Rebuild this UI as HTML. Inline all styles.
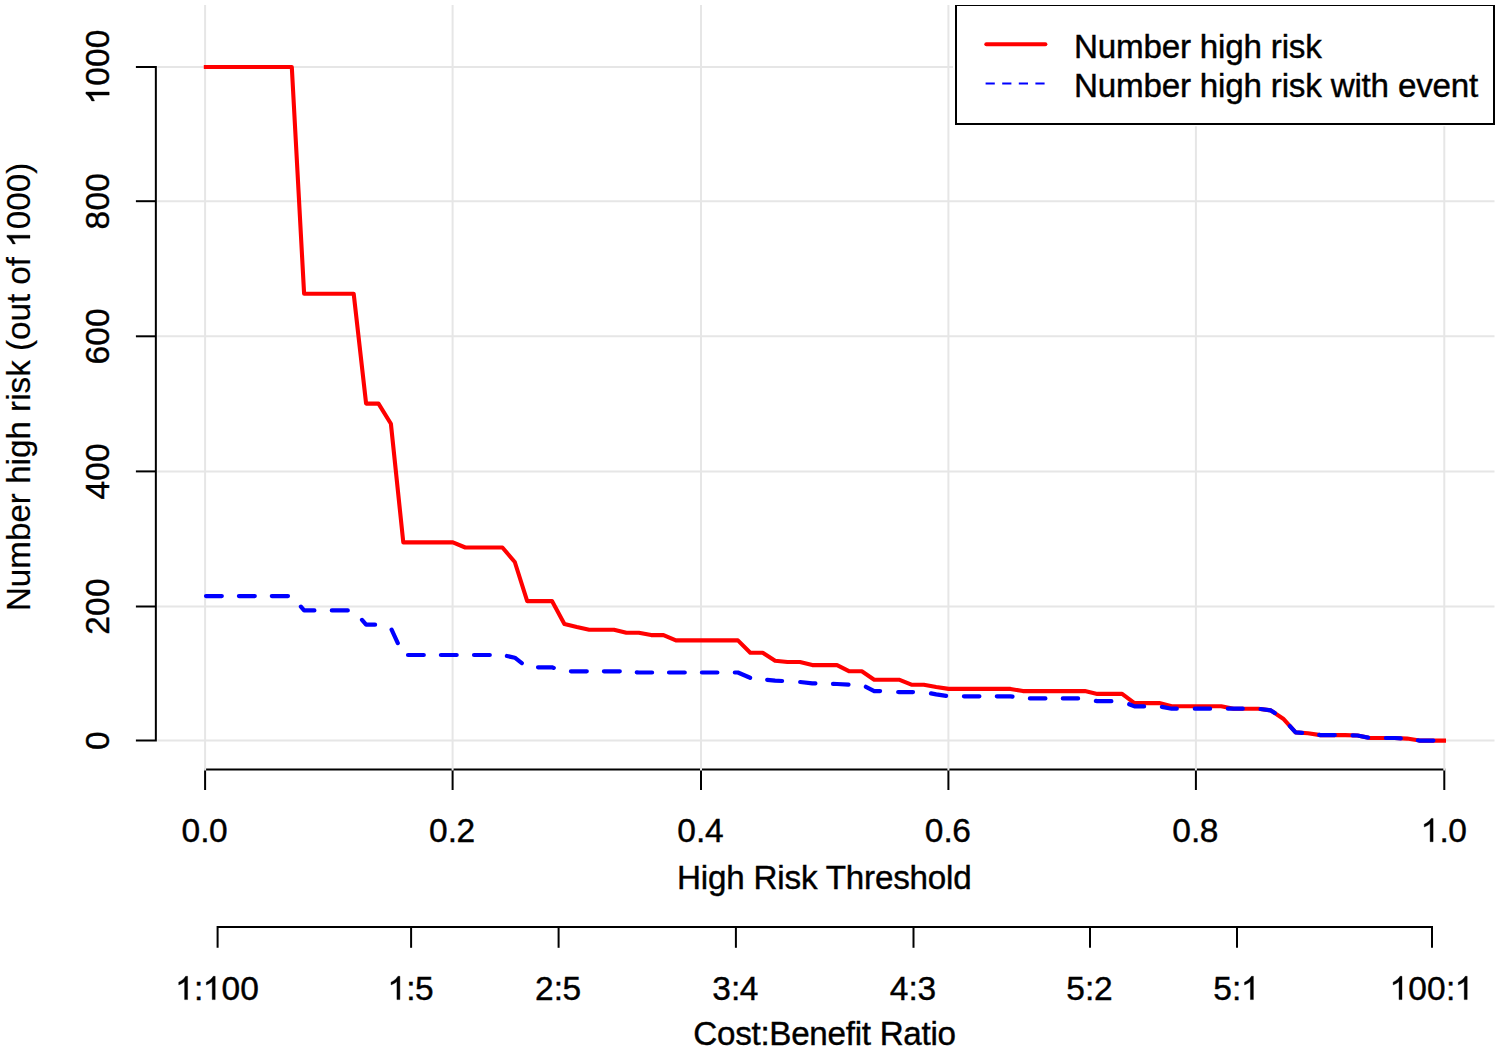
<!DOCTYPE html>
<html><head><meta charset="utf-8"><title>Clinical impact curve</title>
<style>html,body{margin:0;padding:0;background:#fff;overflow:hidden}svg{display:block}text{font-family:"Liberation Sans",sans-serif;font-size:33.2px;fill:#000;stroke:#000;stroke-width:0.4px;letter-spacing:-0.2px}text.v{letter-spacing:0;stroke-width:0.2px}text.n{font-size:33.5px;letter-spacing:0}</style></head><body>
<svg width="1500" height="1049" viewBox="0 0 1500 1049">
<rect x="0" y="0" width="1500" height="1049" fill="#fff"/>
<g stroke="#000" stroke-width="2" fill="none">
<path d="M135.9,66.95 H155.85 V740.50 H135.9"/>
<line x1="135.9" y1="606.50" x2="155.85" y2="606.50"/>
<line x1="135.9" y1="471.40" x2="155.85" y2="471.40"/>
<line x1="135.9" y1="336.30" x2="155.85" y2="336.30"/>
<line x1="135.9" y1="201.20" x2="155.85" y2="201.20"/>
<path d="M205.10,790.0 V769.40 H1444.30 V790.0"/>
<line x1="452.60" y1="769.40" x2="452.60" y2="790.0"/>
<line x1="701.00" y1="769.40" x2="701.00" y2="790.0"/>
<line x1="948.40" y1="769.40" x2="948.40" y2="790.0"/>
<line x1="1195.90" y1="769.40" x2="1195.90" y2="790.0"/>
<path d="M217.60,947.8 V927.00 H1432.00 V947.8"/>
<line x1="411.10" y1="927.00" x2="411.10" y2="947.8"/>
<line x1="558.60" y1="927.00" x2="558.60" y2="947.8"/>
<line x1="735.90" y1="927.00" x2="735.90" y2="947.8"/>
<line x1="913.50" y1="927.00" x2="913.50" y2="947.8"/>
<line x1="1090.00" y1="927.00" x2="1090.00" y2="947.8"/>
<line x1="1237.00" y1="927.00" x2="1237.00" y2="947.8"/>
</g>
<g stroke="#e6e6e6" stroke-width="2" fill="none">
<line x1="205.10" y1="5.0" x2="205.10" y2="770.4"/>
<line x1="452.60" y1="5.0" x2="452.60" y2="770.4"/>
<line x1="701.00" y1="5.0" x2="701.00" y2="770.4"/>
<line x1="948.40" y1="5.0" x2="948.40" y2="770.4"/>
<line x1="1195.90" y1="5.0" x2="1195.90" y2="770.4"/>
<line x1="1444.30" y1="5.0" x2="1444.30" y2="770.4"/>
<line x1="157.25" y1="740.50" x2="1494.5" y2="740.50"/>
<line x1="157.25" y1="606.50" x2="1494.5" y2="606.50"/>
<line x1="157.25" y1="471.40" x2="1494.5" y2="471.40"/>
<line x1="157.25" y1="336.30" x2="1494.5" y2="336.30"/>
<line x1="157.25" y1="201.20" x2="1494.5" y2="201.20"/>
<line x1="157.25" y1="66.95" x2="1494.5" y2="66.95"/>
</g>
<path d="M203.8,67.0 L205.0,67.0 L217.4,67.0 L229.8,67.0 L242.2,67.0 L254.6,67.0 L267.0,67.0 L279.4,67.0 L291.8,67.0 L304.1,293.7 L316.5,293.7 L328.9,293.7 L341.3,293.7 L353.7,293.7 L366.1,403.6 L378.5,403.6 L390.9,423.8 L403.3,542.4 L415.7,542.4 L428.1,542.4 L440.5,542.4 L452.9,542.4 L465.3,547.5 L477.6,547.5 L490.0,547.5 L502.4,547.5 L514.8,562.0 L527.2,601.1 L539.6,601.1 L552.0,601.1 L564.4,624.0 L576.8,627.0 L589.2,629.7 L601.6,629.7 L614.0,629.7 L626.4,632.8 L638.8,632.8 L651.1,635.1 L663.5,635.1 L675.9,640.4 L688.3,640.4 L700.7,640.4 L713.1,640.4 L725.5,640.4 L737.9,640.4 L750.3,652.7 L762.7,652.7 L775.1,660.7 L787.5,662.0 L799.9,662.0 L812.3,665.1 L824.6,665.1 L837.0,665.1 L849.4,671.3 L861.8,671.3 L874.2,679.7 L886.6,679.7 L899.0,679.7 L911.4,684.7 L923.8,684.7 L936.2,687.0 L948.6,688.9 L961.0,688.9 L973.4,688.9 L985.8,688.9 L998.2,688.9 L1010.5,688.9 L1022.9,691.1 L1035.3,691.1 L1047.7,691.1 L1060.1,691.1 L1072.5,691.1 L1084.9,691.1 L1097.3,693.9 L1109.7,693.9 L1122.1,693.9 L1134.5,703.1 L1146.9,703.1 L1159.3,703.1 L1171.7,706.3 L1184.0,706.3 L1196.4,706.3 L1208.8,706.3 L1221.2,706.3 L1233.6,708.7 L1246.0,708.7 L1258.4,708.7 L1270.8,710.4 L1283.2,718.7 L1295.6,732.4 L1308.0,733.3 L1320.4,735.1 L1332.8,735.1 L1345.2,735.1 L1357.5,735.5 L1369.9,738.0 L1382.3,738.0 L1394.7,738.0 L1407.1,738.6 L1419.5,740.6 L1431.9,740.6 L1444.3,740.6 L1446.0,740.6" fill="none" stroke="#ff0000" stroke-width="4.1" stroke-linejoin="round" stroke-linecap="butt"/>
<path d="M206.0,596.1 L217.4,596.1 L221.8,596.1 M238.9,596.1 L242.2,596.1 L254.6,596.1 L254.8,596.1 M271.8,596.1 L279.4,596.1 L288.0,596.1 M300.9,606.6 L304.1,610.4 L314.4,610.4 M331.8,610.4 L341.3,610.4 L347.8,610.4 M362.0,619.9 L366.1,624.7 L375.1,624.7 M391.6,629.6 L397.8,643.1 M408.0,655.0 L415.7,655.0 L423.8,655.0 M440.9,655.0 L452.9,655.0 L456.7,655.0 M474.0,655.0 L477.6,655.0 L489.8,655.0 M506.9,656.0 L514.8,657.7 L521.8,663.1 M538.0,667.3 L539.6,667.3 L552.0,667.3 L553.8,667.9 M570.9,671.3 L576.8,671.3 L586.8,671.3 M603.9,671.3 L614.0,671.3 L619.8,671.3 M636.8,672.3 L638.8,672.5 L651.1,672.5 L652.1,672.5 M669.0,672.5 L675.9,672.5 L684.8,672.5 M701.9,672.5 L713.1,672.5 L717.4,672.5 M734.8,672.5 L737.9,672.5 L750.1,677.8 M767.2,679.8 L775.1,680.6 L782.1,681.0 M800.2,682.0 L812.3,683.3 L815.4,683.4 M833.0,683.9 L837.0,684.0 L848.5,684.6 M865.9,686.8 L874.2,691.1 L880.1,691.1 M898.2,692.0 L899.0,692.1 L911.4,692.1 L913.0,692.1 M931.0,693.4 L936.2,694.4 L946.1,695.9 M963.9,696.3 L973.4,696.3 L979.4,696.3 M996.8,696.3 L998.2,696.3 L1010.5,696.3 L1012.5,696.6 M1029.9,698.4 L1035.3,698.4 L1045.4,698.4 M1062.8,698.4 L1072.5,698.4 L1078.1,698.4 M1095.9,700.9 L1097.3,701.2 L1109.7,701.2 L1111.4,701.2 M1129.2,704.2 L1134.5,706.4 L1144.1,706.4 M1161.9,706.9 L1171.7,708.7 L1176.8,708.7 M1194.8,708.7 L1196.4,708.7 L1208.8,708.7 L1210.1,708.7 M1227.9,708.7 L1233.6,708.7 L1242.8,708.7 M1260.6,709.0 L1270.8,710.4 L1274.8,713.1 M1289.9,726.1 L1295.6,732.4 L1302.1,732.9 M1319.2,734.9 L1320.4,735.1 L1332.8,735.1 L1334.8,735.1 M1352.6,735.4 L1357.5,735.5 L1368.1,737.6 M1385.9,738.0 L1394.7,738.0 L1400.8,738.3 M1417.9,740.3 L1419.5,740.6 L1431.9,740.6 L1433.4,740.6" fill="none" stroke="#0000ff" stroke-width="4.2" stroke-linejoin="round" stroke-linecap="round"/>
<g transform="translate(205.1,841.7)"><text class="n" transform="translate(-23.70,0) scale(1,1.0)">0</text><text class="n" transform="translate(-4.90,0) scale(1,1.0)">.</text><text class="n" transform="translate(3.90,0) scale(1,1.0)">0</text></g>
<g transform="translate(452.6,841.7)"><text class="n" transform="translate(-23.70,0) scale(1,1.0)">0</text><text class="n" transform="translate(-4.90,0) scale(1,1.0)">.</text><text class="n" transform="translate(3.90,0) scale(1,1.0)">2</text></g>
<g transform="translate(701.0,841.7)"><text class="n" transform="translate(-23.70,0) scale(1,1.0)">0</text><text class="n" transform="translate(-4.90,0) scale(1,1.0)">.</text><text class="n" transform="translate(3.90,0) scale(1,1.0)">4</text></g>
<g transform="translate(948.4,841.7)"><text class="n" transform="translate(-23.70,0) scale(1,1.0)">0</text><text class="n" transform="translate(-4.90,0) scale(1,1.0)">.</text><text class="n" transform="translate(3.90,0) scale(1,1.0)">6</text></g>
<g transform="translate(1195.9,841.7)"><text class="n" transform="translate(-23.70,0) scale(1,1.0)">0</text><text class="n" transform="translate(-4.90,0) scale(1,1.0)">.</text><text class="n" transform="translate(3.90,0) scale(1,1.0)">8</text></g>
<g transform="translate(1444.3,841.7)"><path d="M-11.22,0.00L-14.16,0.00L-14.16,-18.14Q-15.23,-17.16 -16.95,-16.18Q-18.68,-15.20 -20.05,-14.71L-20.05,-17.46Q-17.58,-18.59 -15.73,-20.18Q-13.89,-21.78 -13.12,-23.28L-11.22,-23.28Z" fill="#000" stroke="#000" stroke-width="0.4"/><text class="n" transform="translate(-4.90,0) scale(1,1.0)">.</text><text class="n" transform="translate(3.90,0) scale(1,1.0)">0</text></g>
<g transform="translate(217.6,999.6)"><path d="M-30.02,0.00L-32.96,0.00L-32.96,-18.14Q-34.03,-17.16 -35.75,-16.18Q-37.48,-15.20 -38.85,-14.71L-38.85,-17.46Q-36.38,-18.59 -34.53,-20.18Q-32.69,-21.78 -31.92,-23.28L-30.02,-23.28Z" fill="#000" stroke="#000" stroke-width="0.4"/><text class="n" transform="translate(-23.70,0) scale(1,1.0)">:</text><path d="M-2.42,0.00L-5.36,0.00L-5.36,-18.14Q-6.43,-17.16 -8.15,-16.18Q-9.88,-15.20 -11.25,-14.71L-11.25,-17.46Q-8.78,-18.59 -6.93,-20.18Q-5.09,-21.78 -4.32,-23.28L-2.42,-23.28Z" fill="#000" stroke="#000" stroke-width="0.4"/><text class="n" transform="translate(3.90,0) scale(1,1.0)">0</text><text class="n" transform="translate(22.70,0) scale(1,1.0)">0</text></g>
<g transform="translate(411.1,999.6)"><path d="M-11.22,0.00L-14.16,0.00L-14.16,-18.14Q-15.23,-17.16 -16.95,-16.18Q-18.68,-15.20 -20.05,-14.71L-20.05,-17.46Q-17.58,-18.59 -15.73,-20.18Q-13.89,-21.78 -13.12,-23.28L-11.22,-23.28Z" fill="#000" stroke="#000" stroke-width="0.4"/><text class="n" transform="translate(-4.90,0) scale(1,1.0)">:</text><text class="n" transform="translate(3.90,0) scale(1,1.0)">5</text></g>
<g transform="translate(558.6,999.6)"><text class="n" transform="translate(-23.70,0) scale(1,1.0)">2</text><text class="n" transform="translate(-4.90,0) scale(1,1.0)">:</text><text class="n" transform="translate(3.90,0) scale(1,1.0)">5</text></g>
<g transform="translate(735.9,999.6)"><text class="n" transform="translate(-23.70,0) scale(1,1.0)">3</text><text class="n" transform="translate(-4.90,0) scale(1,1.0)">:</text><text class="n" transform="translate(3.90,0) scale(1,1.0)">4</text></g>
<g transform="translate(913.5,999.6)"><text class="n" transform="translate(-23.70,0) scale(1,1.0)">4</text><text class="n" transform="translate(-4.90,0) scale(1,1.0)">:</text><text class="n" transform="translate(3.90,0) scale(1,1.0)">3</text></g>
<g transform="translate(1090.0,999.6)"><text class="n" transform="translate(-23.70,0) scale(1,1.0)">5</text><text class="n" transform="translate(-4.90,0) scale(1,1.0)">:</text><text class="n" transform="translate(3.90,0) scale(1,1.0)">2</text></g>
<g transform="translate(1237.0,999.6)"><text class="n" transform="translate(-23.70,0) scale(1,1.0)">5</text><text class="n" transform="translate(-4.90,0) scale(1,1.0)">:</text><path d="M16.38,0.00L13.44,0.00L13.44,-18.14Q12.37,-17.16 10.65,-16.18Q8.92,-15.20 7.55,-14.71L7.55,-17.46Q10.02,-18.59 11.87,-20.18Q13.71,-21.78 14.48,-23.28L16.38,-23.28Z" fill="#000" stroke="#000" stroke-width="0.4"/></g>
<g transform="translate(1432.0,999.6)"><path d="M-30.02,0.00L-32.96,0.00L-32.96,-18.14Q-34.03,-17.16 -35.75,-16.18Q-37.48,-15.20 -38.85,-14.71L-38.85,-17.46Q-36.38,-18.59 -34.53,-20.18Q-32.69,-21.78 -31.92,-23.28L-30.02,-23.28Z" fill="#000" stroke="#000" stroke-width="0.4"/><text class="n" transform="translate(-23.70,0) scale(1,1.0)">0</text><text class="n" transform="translate(-4.90,0) scale(1,1.0)">0</text><text class="n" transform="translate(13.90,0) scale(1,1.0)">:</text><path d="M35.18,0.00L32.24,0.00L32.24,-18.14Q31.17,-17.16 29.45,-16.18Q27.72,-15.20 26.35,-14.71L26.35,-17.46Q28.82,-18.59 30.67,-20.18Q32.51,-21.78 33.28,-23.28L35.18,-23.28Z" fill="#000" stroke="#000" stroke-width="0.4"/></g>
<text transform="translate(824.3,889.2) scale(1,1.0)" text-anchor="middle">High Risk Threshold</text>
<text transform="translate(824.5,1044.7) scale(1,1.0)" text-anchor="middle" style="letter-spacing:-0.28px">Cost:Benefit Ratio</text>
<g transform="translate(109.2,740.5) rotate(-90)"><text class="n" transform="translate(-9.40,0) scale(1,1.0)">0</text></g>
<g transform="translate(109.2,606.5) rotate(-90)"><text class="n" transform="translate(-28.20,0) scale(1,1.0)">2</text><text class="n" transform="translate(-9.40,0) scale(1,1.0)">0</text><text class="n" transform="translate(9.40,0) scale(1,1.0)">0</text></g>
<g transform="translate(109.2,471.4) rotate(-90)"><text class="n" transform="translate(-28.20,0) scale(1,1.0)">4</text><text class="n" transform="translate(-9.40,0) scale(1,1.0)">0</text><text class="n" transform="translate(9.40,0) scale(1,1.0)">0</text></g>
<g transform="translate(109.2,336.3) rotate(-90)"><text class="n" transform="translate(-28.20,0) scale(1,1.0)">6</text><text class="n" transform="translate(-9.40,0) scale(1,1.0)">0</text><text class="n" transform="translate(9.40,0) scale(1,1.0)">0</text></g>
<g transform="translate(109.2,201.2) rotate(-90)"><text class="n" transform="translate(-28.20,0) scale(1,1.0)">8</text><text class="n" transform="translate(-9.40,0) scale(1,1.0)">0</text><text class="n" transform="translate(9.40,0) scale(1,1.0)">0</text></g>
<g transform="translate(109.2,67.0) rotate(-90)"><path d="M-25.12,0.00L-28.06,0.00L-28.06,-18.14Q-29.13,-17.16 -30.85,-16.18Q-32.58,-15.20 -33.95,-14.71L-33.95,-17.46Q-31.48,-18.59 -29.63,-20.18Q-27.79,-21.78 -27.02,-23.28L-25.12,-23.28Z" fill="#000" stroke="#000" stroke-width="0.4"/><text class="n" transform="translate(-18.80,0) scale(1,1.0)">0</text><text class="n" transform="translate(0.00,0) scale(1,1.0)">0</text><text class="n" transform="translate(18.80,0) scale(1,1.0)">0</text></g>
<g transform="translate(30.0,386.9) rotate(-90)"><text class="v" transform="translate(-224.21,0) scale(1,1.0)">Number high risk (out of</text><path d="M151.66,0.00L148.75,0.00L148.75,-17.98Q147.69,-17.01 145.98,-16.04Q144.27,-15.06 142.91,-14.58L142.91,-17.31Q145.36,-18.42 147.19,-20.00Q149.02,-21.59 149.78,-23.08L151.66,-23.08Z" fill="#000" stroke="#000" stroke-width="0.3"/><text class="v" transform="translate(157.75,0) scale(1,1.0)">000)</text></g>
<rect x="953" y="3" width="544" height="123.3" fill="#fff"/>
<clipPath id="lc"><rect x="900" y="5" width="600" height="200"/></clipPath>
<rect x="956" y="5" width="538" height="119" fill="#fff" stroke="#000" stroke-width="2" clip-path="url(#lc)"/>
<line x1="986.3" y1="44.2" x2="1045.4" y2="44.2" stroke="#ff0000" stroke-width="4" stroke-linecap="round"/>
<line x1="985.6" y1="83.4" x2="1045" y2="83.4" stroke="#0000ff" stroke-width="2" stroke-dasharray="9.2 7.4"/>
<text transform="translate(1074.0,58.0) scale(1,1.0)">Number high risk</text>
<text transform="translate(1074.0,97.0) scale(1,1.0)">Number high risk with event</text>
</svg></body></html>
